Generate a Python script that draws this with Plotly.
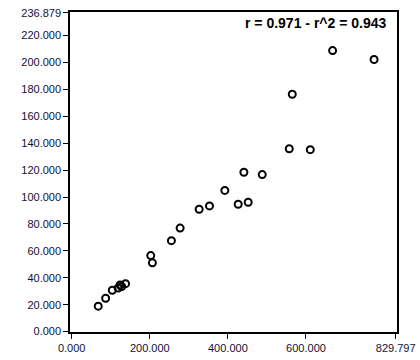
import plotly.graph_objects as go

x_vals = [68, 87, 104, 119, 124, 128, 138, 202.5, 206.7, 255.4, 277.7, 326.4, 352.9,
          392.2, 426.4, 452, 441, 488, 557.2, 564.9, 611, 668.2, 774.4]
y_vals = [18.9, 24.8, 30.7, 32.4, 34.6, 33.5, 35.6, 56.5, 51.1, 67.6, 76.9, 90.9, 93.4,
          104.9, 94.6, 96.1, 118.4, 116.7, 135.9, 176.4, 135.2, 208.8, 202.2]

x_ticks = [0, 200, 400, 600, 829.797]
x_tick_text = ["0.000", "200.000", "400.000", "600.000", "829.797"]
y_ticks = [0, 20, 40, 60, 80, 100, 120, 140, 160, 180, 200, 220, 236.879]
y_tick_text = ["0.000", "20.000", "40.000", "60.000", "80.000", "100.000", "120.000",
               "140.000", "160.000", "180.000", "200.000", "220.000", "236.879"]
stat_text = "r = 0.971 - r^2 = 0.943"

fig = go.Figure()
fig.add_trace(go.Scatter(
    x=x_vals, y=y_vals, mode="markers",
    marker=dict(symbol="circle-open", size=7, color="black", line=dict(width=2, color="black")),
    showlegend=False, hoverinfo="skip"))

axis_common = dict(
    showgrid=False, zeroline=False, showline=True, linecolor="black", linewidth=1.5,
    mirror=True, ticks="outside", ticklen=5, tickcolor="black", tickwidth=1,
    tickfont=dict(family="Liberation Sans", size=11, color="#111133"),
    tickmode="array", automargin=False)

fig.update_layout(
    width=420, height=360,
    margin=dict(l=70, r=23, t=12, b=28),
    paper_bgcolor="white", plot_bgcolor="white",
    xaxis=dict(range=[-4.3, 833.1], tickvals=x_ticks, ticktext=x_tick_text, **axis_common),
    yaxis=dict(range=[-0.3, 237.5], tickvals=y_ticks, ticktext=y_tick_text, **axis_common),
    annotations=[dict(
        text="<b>" + stat_text + "</b>", x=0.972, y=0.996, xref="paper", yref="paper",
        xanchor="right", yanchor="top", showarrow=False,
        font=dict(family="Liberation Sans", size=14, color="black"))],
)

fig.write_html("out.html")
